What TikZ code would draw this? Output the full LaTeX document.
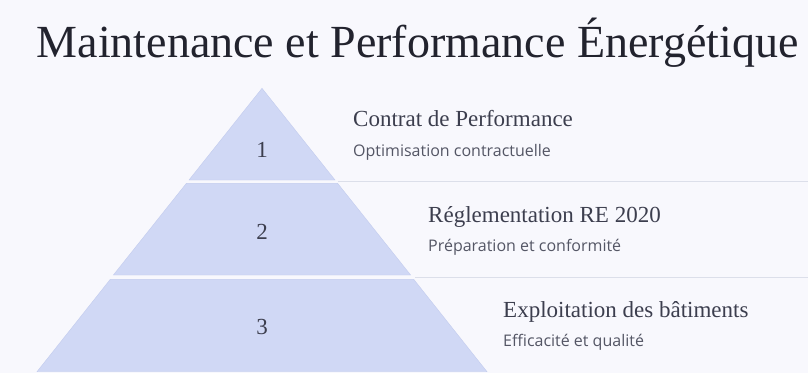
\documentclass[tikz,border=0pt]{standalone}
\usepackage{fontspec}
\setmainfont{Liberation Serif}
\newfontfamily\subfont{Open Sans}
\usepackage{tikz}
\usetikzlibrary{calc}
\definecolor{pagebg}{HTML}{F8F8FD}
\definecolor{tierblue}{HTML}{D0D8F5}
\definecolor{tieredge}{HTML}{C3CCEE}
\definecolor{sepgrey}{HTML}{DCDFEA}
\definecolor{inkdark}{HTML}{22232E}
\definecolor{inkhead}{HTML}{3C3E4E}
\definecolor{inksub}{HTML}{545665}

\begin{document}
\begin{tikzpicture}[x=1pt,y=-1pt]

  \tikzstyle{tier}=[fill=tierblue,draw=tieredge,line width=0.4pt]
  \tikzstyle{sepline}=[draw=sepgrey,line width=1.2pt]
  \tikzstyle{numnode}=[text=inkhead,font=\fontsize{23}{23}\selectfont]
  \tikzstyle{headnode}=[anchor=base west,inner sep=0pt,text=inkhead,font=\fontsize{23}{23}\selectfont]
  \tikzstyle{subnode}=[anchor=base west,inner sep=0pt,text=inksub,font=\subfont\fontsize{16}{16}\selectfont]

  \fill[pagebg] (0,0) rectangle (808,373);
  \useasboundingbox (0,0) rectangle (808,373);

  % title
  \node (title) [anchor=base,inner sep=0pt,text=inkdark,font=\fontsize{46}{46}\selectfont]
        at (417.5,57) {Maintenance et Performance Énergétique};

  % pyramid corners
  \coordinate (apex) at (262,88.3);
  \coordinate (t1l) at (189,180);   \coordinate (t1r) at (335,180);
  \coordinate (t2a) at (186.4,183.3); \coordinate (t2b) at (337.6,183.3);
  \coordinate (t2l) at (113.4,275); \coordinate (t2r) at (410.6,275);
  \coordinate (t3a) at (110.3,279.3); \coordinate (t3b) at (413.7,279.3);
  \coordinate (t3l) at (37,371.7);  \coordinate (t3r) at (487,371.7);

  \path[tier] (apex) -- (t1r) -- (t1l) -- cycle;
  \path[tier] (t2a) -- (t2b) -- (t2r) -- (t2l) -- cycle;
  \path[tier] (t3a) -- (t3b) -- (t3r) -- (t3l) -- cycle;

  % separators
  \coordinate (s1a) at (338,181.6); \coordinate (s1b) at (808,181.6);
  \coordinate (s2a) at (415,277.2); \coordinate (s2b) at (808,277.2);
  \path[sepline] (s1a) -- (s1b)
                 (s2a) -- (s2b);

  % numbers
  \node[numnode] (n1) at (262,149.5) {1};
  \node[numnode] (n2) at (262,232) {2};
  \node[numnode] (n3) at (262,327) {3};

  % labels
  \node[headnode] (h1) at (353,126.5) {Contrat de Performance};
  \node[subnode]  (s1) at (353,156) {Optimisation contractuelle};
  \node[headnode] (h2) at (428,222) {Réglementation RE 2020};
  \node[subnode]  (s2) at (428,251) {Préparation et conformité};
  \node[headnode] (h3) at (503,317) {Exploitation des bâtiments};
  \node[subnode]  (s3) at (503,346.5) {Efficacité et qualité};

\end{tikzpicture}
\end{document}
